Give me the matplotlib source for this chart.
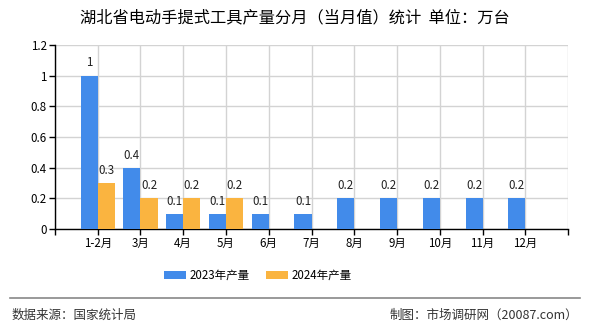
import numpy as np
import matplotlib.pyplot as plt
from matplotlib.lines import Line2D

plt.rcParams["font.family"] = ["Noto Sans CJK SC", "DejaVu Sans"]

months = ["1-2月", "3月", "4月", "5月", "6月", "7月", "8月", "9月", "10月", "11月", "12月"]
output_2023 = [1, 0.4, 0.1, 0.1, 0.1, 0.1, 0.2, 0.2, 0.2, 0.2, 0.2]
output_2024 = [0.3, 0.2, 0.2, 0.2, np.nan, np.nan, np.nan, np.nan, np.nan, np.nan, np.nan]
series_names = ["2023年产量", "2024年产量"]
colors = ["#428BEA", "#FAB440"]

fig = plt.figure(figsize=(5.9, 3.3), dpi=100)
ax = fig.add_axes([0.093, 0.306, 0.870, 0.558])

x = np.arange(1, len(months) + 1)
w = 0.4
b1 = ax.bar(x - w / 2, output_2023, w, color=colors[0], label=series_names[0], zorder=3)
b2 = ax.bar(x + w / 2, output_2024, w, color=colors[1], label=series_names[1], zorder=3)

# value labels above bars (2024 has no data after May)
for bars, vals in [(b1, output_2023), (b2, output_2024)]:
    for rect, v in zip(bars, vals):
        if np.isnan(v):
            continue
        ax.text(rect.get_x() + rect.get_width() / 2, v + 0.04, f"{v:g}",
                ha="center", va="bottom", fontsize=8.3, color="#222222", zorder=4)

ax.set_xlim(0, 12)
ax.set_ylim(0, 1.2)
ax.set_yticks(np.arange(0, 1.21, 0.2))
ax.set_yticklabels(["0", "0.2", "0.4", "0.6", "0.8", "1", "1.2"])
ax.set_xticks(np.arange(0, 13))
ax.set_xticklabels([""] + months + [""])
ax.tick_params(axis="both", labelsize=8.3, length=4, width=1, color="black", pad=2)

ax.grid(True, color="#D3D3D3", linewidth=1, zorder=0)
for s in ["top", "right"]:
    ax.spines[s].set_visible(False)
ax.spines["left"].set_color("black")
ax.spines["bottom"].set_color("black")
ax.spines["left"].set_linewidth(1)
ax.spines["bottom"].set_linewidth(1)

fig.text(0.5, 0.945, "湖北省电动手提式工具产量分月（当月值）统计  单位：万台",
         ha="center", va="center", fontsize=11.7)

fig.legend(handles=[b1, b2], labels=series_names, loc="center", bbox_to_anchor=(0.437, 0.165),
           ncol=2, frameon=False, fontsize=8.3, handlelength=1.9, handleheight=0.7,
           columnspacing=1.4, handletextpad=0.3)

fig.add_artist(Line2D([0.017, 0.983], [0.097, 0.097], color="#888888", linewidth=1.2,
                      transform=fig.transFigure))
fig.text(0.02, 0.045, "数据来源：国家统计局", ha="left", va="center", fontsize=9, color="#333333")
fig.text(0.98, 0.045, "制图：市场调研网（20087.com）", ha="right", va="center", fontsize=9, color="#333333")

fig.savefig("out.png", dpi=100)
